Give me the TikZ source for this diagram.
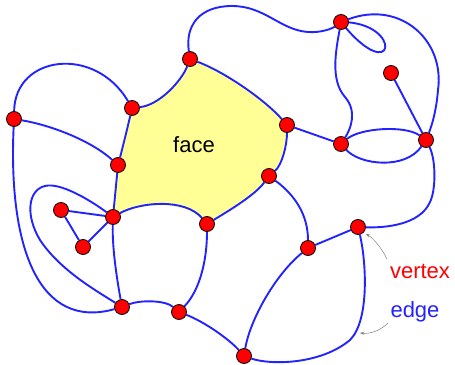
\documentclass[tikz,border=0pt]{standalone}
\usepackage{fontspec}
\setmainfont{Liberation Sans}
\usetikzlibrary{arrows.meta}
\definecolor{edgeblue}{RGB}{35,35,255}
\definecolor{facey}{RGB}{255,255,150}
\definecolor{vred}{RGB}{255,0,0}
\pgfdeclarelayer{background}
\pgfsetlayers{background,main}
\begin{document}
\begin{tikzpicture}[x=1pt,y=-1pt,
  edge/.style={draw=edgeblue,line width=1.9pt},
  vtx/.style={circle,fill=vred,draw=black,line width=0.8pt,minimum size=15pt,inner sep=0pt},
  lbl/.style={font=\fontsize{22}{26}\selectfont,inner sep=0pt},
  pointer/.style={draw=gray,line width=0.5pt,-{Stealth[length=4pt,width=3pt]}}]
\useasboundingbox (0,0) rectangle (455,364);
\node[vtx] (A) at (14,119) {};
\node[vtx] (B) at (132,108) {};
\node[vtx] (C) at (190,59) {};
\node[vtx] (D) at (118,165) {};
\node[vtx] (E) at (341,22) {};
\node[vtx] (F) at (391,73) {};
\node[vtx] (G) at (287,125) {};
\node[vtx] (H) at (341,144) {};
\node[vtx] (I) at (426,140) {};
\node[vtx] (J) at (269,176) {};
\node[vtx] (K) at (61,210) {};
\node[vtx] (L) at (113,217) {};
\node[vtx] (M) at (83,247) {};
\node[vtx] (N) at (207,224) {};
\node[vtx] (O) at (122,307) {};
\node[vtx] (P) at (179,312) {};
\node[vtx] (Q) at (308,248) {};
\node[vtx] (R) at (358,227) {};
\node[vtx] (S) at (244,356) {};
\begin{pgfonlayer}{background}
\fill[facey] (B.center) .. controls (160,105) and (182,80) .. (C.center)
  .. controls (225,72) and (265,100) .. (G.center)
  .. controls (287,145) and (282,165) .. (J.center)
  .. controls (255,195) and (230,210) .. (N.center)
  .. controls (185,198) and (140,202) .. (L.center)
  -- (D.center) .. controls (122,150) and (127,130) .. (B.center) -- cycle;
\draw[edge] (A) .. controls (15,55) and (95,45) .. (B);
\draw[edge] (A) .. controls (50,125) and (90,140) .. (D);
\draw[edge] (A) .. controls (8,250) and (40,330) .. (O);
\draw[edge] (B) .. controls (160,105) and (182,80) .. (C);
\draw[edge] (B) .. controls (127,130) and (122,150) .. (D);
\draw[edge] (C) .. controls (185,25) and (200,6) .. (232,6)
  .. controls (265,6) and (280,30) .. (308,32)
  .. controls (322,33) and (333,28) .. (E);
\draw[edge] (C) .. controls (225,72) and (265,100) .. (G);
\draw[edge] (G) .. controls (287,145) and (282,165) .. (J);
\draw[edge] (J) .. controls (255,195) and (230,210) .. (N);
\draw[edge] (L) .. controls (140,202) and (185,198) .. (N);
\draw[edge] (L) -- (D);
\draw[edge] (G) -- (H);
\draw[edge] (E) .. controls (336,50) and (330,80) .. (345,97)
  .. controls (358,112) and (350,130) .. (H);
\draw[edge] (E.center) .. controls (405,22) and (395,90) .. (E.center);
\draw[edge] (E) .. controls (400,0) and (445,40) .. (438,90)
  .. controls (436,115) and (430,130) .. (I);
\draw[edge] (F) -- (I);
\draw[edge] (H) .. controls (360,128) and (405,125) .. (I);
\draw[edge] (H) .. controls (360,165) and (405,170) .. (I);
\draw[edge] (I) .. controls (436,160) and (436,190) .. (430,202)
  .. controls (420,225) and (385,228) .. (R);
\draw[edge] (J) .. controls (295,195) and (308,215) .. (Q);
\draw[edge] (Q) -- (R);
\draw[edge] (Q) .. controls (275,275) and (250,320) .. (S);
\draw[edge] (R) .. controls (366,260) and (370,320) .. (350,340)
  .. controls (320,365) and (270,365) .. (S);
\draw[edge] (P) .. controls (205,322) and (230,340) .. (S);
\draw[edge] (N) .. controls (207,260) and (200,290) .. (P);
\draw[edge] (O) .. controls (140,300) and (165,300) .. (P);
\draw[edge] (L) .. controls (112,250) and (118,285) .. (O);
\draw[edge] (K) -- (L);
\draw[edge] (K) -- (M);
\draw[edge] (M) -- (L);
\draw[edge] (L) .. controls (90,200) and (60,182) .. (45,186)
  .. controls (28,190) and (25,215) .. (40,240)
  .. controls (60,270) and (95,290) .. (O);
\end{pgfonlayer}
\node[lbl] (facelbl) at (194,145) {face};
\node[lbl,text=vred,anchor=base] (vlbl) at (420,278) {vertex};
\node[lbl,text=edgeblue,anchor=base] (elbl) at (415,317) {edge};
\coordinate (va) at (387,259);
\coordinate (vt) at (366,234);
\draw[pointer] (va) .. controls (381,247) and (373,238) .. (vt);
\coordinate (ea) at (388,323);
\coordinate (et) at (360,333);
\draw[pointer] (ea) .. controls (380,331) and (370,334) .. (et);
\end{tikzpicture}
\end{document}
